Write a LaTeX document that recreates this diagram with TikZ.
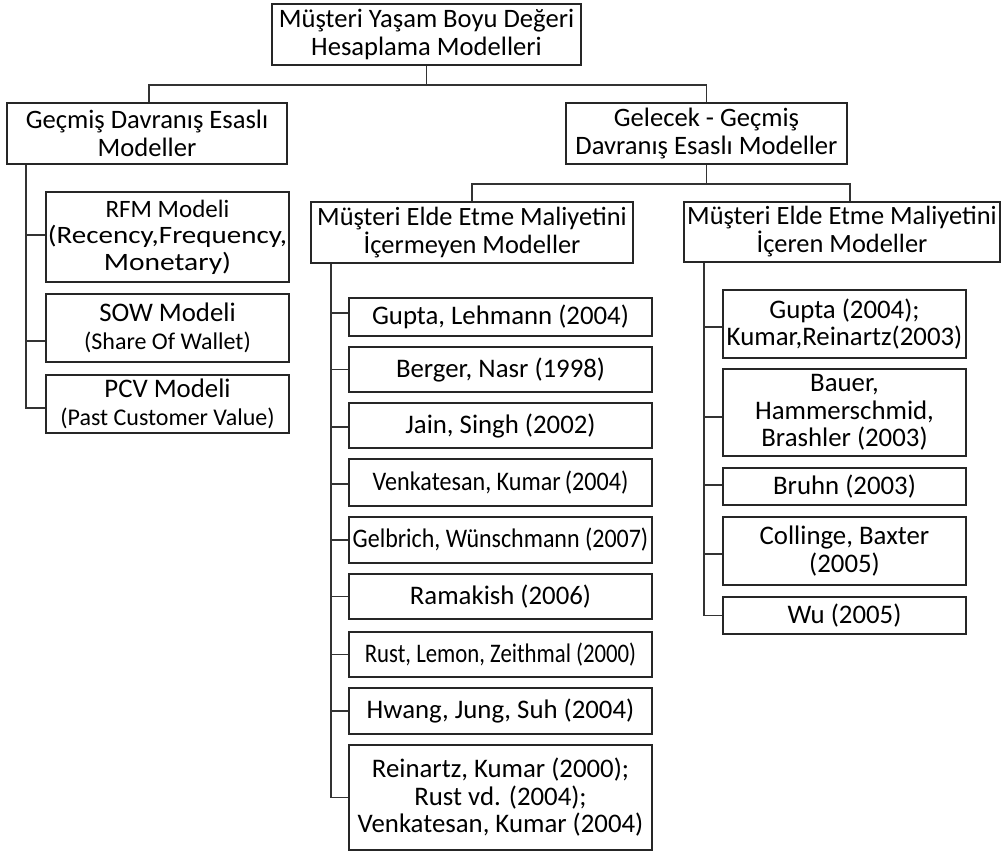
\documentclass[tikz,border=0pt]{standalone}
\usepackage{fontspec}
\setmainfont{Carlito}
\newcommand{\hsq}[2]{\scalebox{#1}[1]{#2}}
\begin{document}
\begin{tikzpicture}[x=1pt,y=-1pt,
 box/.style={draw=black!85, line width=1.6pt, align=center, inner sep=0pt,
   font=\fontsize{26.8}{27.5}\selectfont},
 conn/.style={draw=black!80, line width=1.6pt}]
\useasboundingbox[fill=white] (0,0) rectangle (1003,852);
% level 0
\node[box, minimum width=309pt, minimum height=61pt, font=\fontsize{26.6}{28}\selectfont] (root) at (426.5,34.5) {Müşteri Yaşam Boyu Değeri\\Hesaplama Modelleri};
% level 1
\node[box, minimum width=280pt, minimum height=61pt, font=\fontsize{26.6}{28}\selectfont] (L) at (147,133.5) {Geçmiş Davranış Esaslı\\Modeller};
\node[box, minimum width=281pt, minimum height=61pt, font=\fontsize{26.6}{28}\selectfont] (R) at (706.5,133.5) {Gelecek - Geçmiş\\Davranış Esaslı Modeller};
% level 2
\node[box, minimum width=322pt, minimum height=61pt, font=\fontsize{26.4}{28}\selectfont] (M2) at (472,232.5) {Müşteri Elde Etme Maliyetini\\İçermeyen Modeller};
\node[box, minimum width=316pt, minimum height=60pt, font=\fontsize{26.4}{28}\selectfont] (R2) at (842,232) {Müşteri Elde Etme Maliyetini\\İçeren Modeller};
% left children
\node[box, minimum width=243pt, minimum height=90pt, font=\fontsize{25}{26.5}\selectfont] (rfm) at (167.5,237) {RFM Modeli\\\hsq{1.16}{(Recency,Frequency,}\\\hsq{1.18}{Monetary)}};
\node[box, minimum width=243pt, minimum height=68pt] (sow) at (167.5,328) {SOW Modeli\\{\fontsize{24}{26}\selectfont (Share Of Wallet)}};
\node[box, minimum width=243pt, minimum height=58pt] (pcv) at (167.5,404) {PCV Modeli\\{\fontsize{24}{26}\selectfont (Past Customer Value)}};
% middle children
\node[box, minimum width=303pt, minimum height=38pt] (gl) at (500.5,317) {Gupta, Lehmann (2004)};
\node[box, minimum width=303pt, minimum height=45pt] (bn) at (500.5,369.5) {Berger, Nasr (1998)};
\node[box, minimum width=303pt, minimum height=45pt] (js) at (500.5,425.5) {Jain, Singh (2002)};
\node[box, minimum width=303pt, minimum height=47pt] (vk) at (500.5,482.5) {\hsq{0.9}{Venkatesan, Kumar\,(2004)}};
\node[box, minimum width=303pt, minimum height=46pt] (gw) at (500.5,540) {\hsq{0.895}{Gelbrich, Wünschmann (2007)}};
\node[box, minimum width=303pt, minimum height=45pt] (ra) at (500.5,596.5) {Ramakish (2006)};
\node[box, minimum width=303pt, minimum height=45pt] (rl) at (500.5,654.5) {\hsq{0.85}{Rust, Lemon, Zeithmal (2000)}};
\node[box, minimum width=303pt, minimum height=46pt] (hj) at (500.5,711) {Hwang, Jung, Suh (2004)};
\node[box, minimum width=303pt, minimum height=105pt] (rk) at (500.5,797.5) {Reinartz, Kumar (2000);\\Rust vd. (2004);\\Venkatesan, Kumar (2004)};
% right children
\node[box, minimum width=243pt, minimum height=68pt] (g4) at (844.5,324) {Gupta (2004);\\Kumar,Reinartz(2003)};
\node[box, minimum width=243pt, minimum height=87pt] (ba) at (844.5,412.5) {Bauer,\\Hammerschmid,\\Brashler (2003)};
\node[box, minimum width=243pt, minimum height=37pt] (br) at (844.5,486.5) {Bruhn (2003)};
\node[box, minimum width=243pt, minimum height=68pt] (cb) at (844.5,551) {Collinge, Baxter\\(2005)};
\node[box, minimum width=243pt, minimum height=37pt] (wu) at (844.5,615.5) {Wu (2005)};
% top connectors
\draw[conn] (root.south) -- ++(0,19) coordinate (h1);
\draw[conn] (h1) -| ([xshift=2pt]L.north);
\draw[conn] (h1) -| (R.north);
\draw[conn] (R.south) -- ++(0,19) coordinate (h2);
\draw[conn] (h2) -| (M2.north);
\draw[conn] (h2) -| ([xshift=8pt]R2.north);
% spines
\coordinate (sL) at ([xshift=20pt]L.south west);
\coordinate (sM) at ([xshift=21pt]M2.south west);
\coordinate (sR) at ([xshift=21pt]R2.south west);
\draw[conn] (sL) |- ([yshift=2pt]rfm.west);
\draw[conn] (sL) |- ([yshift=-13pt]sow.west);
\draw[conn] (sL) |- ([yshift=-4pt]pcv.west);
\draw[conn] (sM) |- ([yshift=4pt]gl.west);
\draw[conn] (sM) |- (bn.west);
\draw[conn] (sM) |- ([yshift=-1.5pt]js.west);
\draw[conn] (sM) |- ([yshift=-1.5pt]vk.west);
\draw[conn] (sM) |- (gw.west);
\draw[conn] (sM) |- (ra.west);
\draw[conn] (sM) |- (rl.west);
\draw[conn] (sM) |- (hj.west);
\draw[conn] (sM) |- (rk.west);
\draw[conn] (sR) |- ([yshift=-3pt]g4.west);
\draw[conn] (sR) |- ([yshift=-4.5pt]ba.west);
\draw[conn] (sR) |- ([yshift=1.5pt]br.west);
\draw[conn] (sR) |- ([yshift=-3pt]cb.west);
\draw[conn] (sR) |- (wu.west);
\end{tikzpicture}
\end{document}
